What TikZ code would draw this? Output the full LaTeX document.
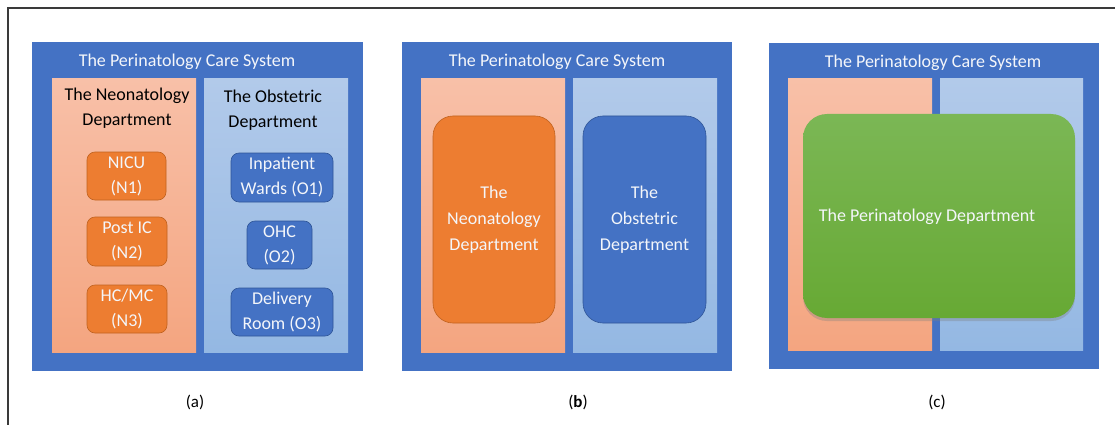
\documentclass[tikz,border=0pt]{standalone}
\usepackage{fontspec}
\setmainfont{Carlito}
\usetikzlibrary{shadows}

\definecolor{sysblue}{HTML}{4472C4}
\definecolor{salmontop}{HTML}{F8C0A8}
\definecolor{salmonbot}{HTML}{F4A580}
\definecolor{skytop}{HTML}{B2CAEA}
\definecolor{skybot}{HTML}{94B8E3}
\definecolor{unitorange}{HTML}{ED7D31}
\definecolor{unitorangeline}{HTML}{C0621F}
\definecolor{unitblue}{HTML}{4472C4}
\definecolor{unitblueline}{HTML}{2F5597}
\definecolor{greentop}{HTML}{7BB755}
\definecolor{greenbot}{HTML}{67A934}
\definecolor{framegray}{HTML}{3A3A3A}
\definecolor{softwhite}{HTML}{F4F6FA}

\tikzset{
  x=1pt, y=-1pt,
  every node/.style={inner sep=0pt, outer sep=0pt, font=\fontsize{18}{25}\selectfont},
  sysbox/.style={fill=sysblue, draw=none, minimum width=#1},
  neocol/.style={draw=none, top color=salmontop, bottom color=salmonbot, minimum width=144pt},
  obscol/.style={draw=none, top color=skytop, bottom color=skybot, minimum width=144pt},
  systitle/.style={text=softwhite, font=\fontsize{18}{22}\selectfont},
  heading/.style={text=black, align=center},
  orangeunit/.style={fill=unitorange, draw=unitorangeline, line width=0.6pt, rounded corners=#1, text=softwhite, align=center},
  blueunit/.style={fill=unitblue, draw=unitblueline, line width=0.6pt, rounded corners=#1, text=softwhite, align=center},
  caption/.style={font=\fontsize{17}{20}\selectfont},
}

\begin{document}
\begin{tikzpicture}
\useasboundingbox (0,0) rectangle (1115,425);

% page frame (top and left edges)
\coordinate (fr1) at (1115,8);
\coordinate (fr2) at (8,8);
\coordinate (fr3) at (8,425);
\draw[framegray, line width=1.3pt] (fr1) -- (fr2) -- (fr3);

% ---------- (a) ----------
\node[sysbox=331pt, minimum height=329pt] (sysA) at (197.5,206.5) {};
\node[systitle] (titleA) at (187,62) {The Perinatology Care System};
\node[neocol, minimum height=273pt] (neoA) at (124,215.5) {};
\node[obscol, minimum height=273pt] (obsA) at (276,215.5) {};
\node[heading] (neoHeadA) at (127,108) {The Neonatology\\Department};
\node[heading] (obsHeadA) at (273,110) {The Obstetric\\Department};
\node[orangeunit=8pt, minimum width=79pt, minimum height=48pt] (nicu) at (126.5,176) {NICU\\(N1)};
\node[orangeunit=8pt, minimum width=80pt, minimum height=49pt] (postic) at (127,241.5) {Post IC\\(N2)};
\node[orangeunit=8pt, minimum width=80pt, minimum height=48pt] (hcmc) at (127,309) {HC/MC\\(N3)};
\node[blueunit=8pt, minimum width=102pt, minimum height=49pt] (inpat) at (282,177.5) {Inpatient\\Wards (O1)};
\node[blueunit=8pt, minimum width=65pt, minimum height=48pt] (ohc) at (279.5,245) {OHC\\(O2)};
\node[blueunit=8pt, minimum width=102pt, minimum height=48pt] (deliv) at (282,312) {Delivery\\Room (O3)};
\node[caption] (capA) at (195,402) {(a)};

% ---------- (b) ----------
\node[sysbox=330pt, minimum height=329pt] (sysB) at (567,206.5) {};
\node[systitle] (titleB) at (557,62) {The Perinatology Care System};
\node[neocol, minimum height=273pt] (neoB) at (493,215.5) {};
\node[obscol, minimum height=273pt] (obsB) at (645,215.5) {};
\node[orangeunit=20pt, minimum width=122pt, minimum height=207pt,
      font=\fontsize{18}{26}\selectfont] (neoDeptB) at (494,219.5) {The\\Neonatology\\Department};
\node[blueunit=20pt, minimum width=123pt, minimum height=207pt,
      font=\fontsize{18}{26}\selectfont] (obsDeptB) at (644.5,219.5) {The\\Obstetric\\Department};
\node[caption] (capB) at (578,402) {(\textbf{b})};

% ---------- (c) ----------
\node[sysbox=330pt, minimum height=326pt] (sysC) at (934,206) {};
\node[systitle] (titleC) at (933,63) {The Perinatology Care System};
\node[neocol, minimum height=271pt] (neoC) at (860,214.5) {};
\node[obscol, minimum width=143pt, minimum height=271pt] (obsC) at (1011.5,214.5) {};
\node[draw=none, top color=greentop, bottom color=greenbot, rounded corners=24pt,
      minimum width=272pt, minimum height=204pt,
      drop shadow={shadow xshift=0pt, shadow yshift=-3pt, opacity=0.35}] (periC) at (939,216) {};
\node[text=softwhite] (periText) at (927,217) {The Perinatology Department};
\node[caption] (capC) at (937,402) {(c)};
\end{tikzpicture}
\end{document}
